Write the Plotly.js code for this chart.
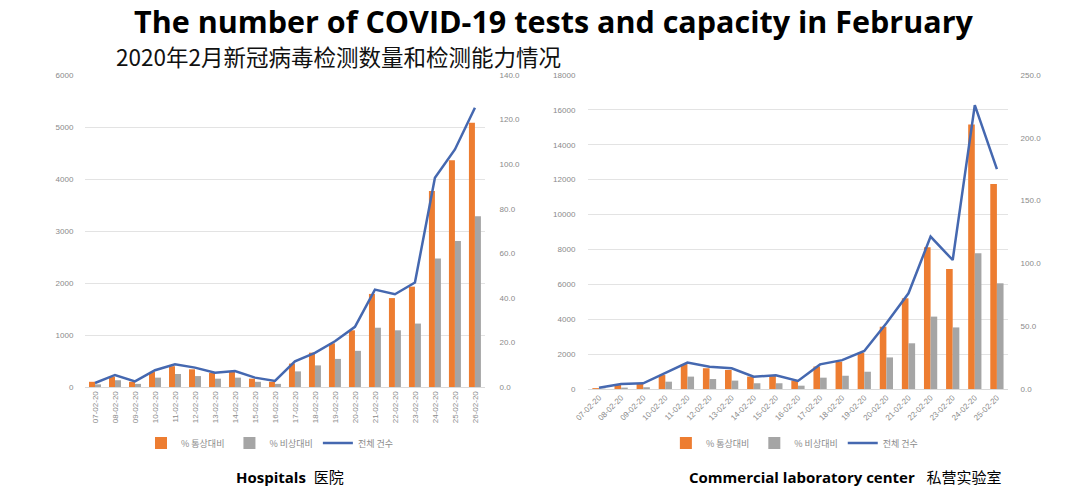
<!DOCTYPE html>
<html><head><meta charset="utf-8">
<script src="https://cdn.plot.ly/plotly-3.0.1.min.js"></script>
<style>html,body{margin:0;padding:0;background:#fff}#c{width:1080px;height:489px}</style>
</head><body><div id="c"></div>
<script>
// Hospitals (left)
const hospDates = ['07-02-20','08-02-20','09-02-20','10-02-20','11-02-20','12-02-20','13-02-20','14-02-20','15-02-20','16-02-20','17-02-20','18-02-20','19-02-20','20-02-20','21-02-20','22-02-20','23-02-20','24-02-20','25-02-20','26-02-20'];
const hospNormal = [100,200,100,290,400,340,270,290,160,100,450,660,840,1090,1790,1710,1930,3770,4360,5080];
const hospEmerg  = [50,130,60,180,250,210,160,180,100,60,300,415,540,695,1140,1090,1220,2470,2810,3285];
const hospTotal  = [1.8,5.4,2.5,7.5,10.2,8.7,6.4,7.2,4.2,2.7,11.5,15.3,20.5,27,43.7,41.6,46.9,93.9,106.6,125.3];

// Commercial laboratory center (right)
const labDates = ['07-02-20','08-02-20','09-02-20','10-02-20','11-02-20','12-02-20','13-02-20','14-02-20','15-02-20','16-02-20','17-02-20','18-02-20','19-02-20','20-02-20','21-02-20','22-02-20','23-02-20','24-02-20','25-02-20'];
const labNormal = [50,230,300,800,1430,1190,1090,710,750,480,1290,1570,2080,3570,5200,8120,6880,15170,11750];
const labEmerg  = [20,80,100,420,710,570,480,330,330,190,650,760,990,1810,2620,4150,3530,7780,6060];
const labTotal  = [1,4,4.5,12.5,21,17.8,16.5,9.8,10.9,6.4,19.6,23,30.3,52.3,76.2,121.3,102.7,226,175];

const legendNames = ['% 통상대비','% 비상대비','전체 건수'];
const cOrange = '#ED7D31', cGray = '#A5A5A5', cBlue = '#4568B0';

const traces = [
  {type:'bar', x:hospDates, y:hospNormal, name:legendNames[0], marker:{color:cOrange}, xaxis:'x', yaxis:'y', legend:'legend'},
  {type:'bar', x:hospDates, y:hospEmerg, name:legendNames[1], marker:{color:cGray}, xaxis:'x', yaxis:'y', legend:'legend'},
  {type:'scatter', mode:'lines', x:hospDates, y:hospTotal, name:legendNames[2], line:{color:cBlue, width:2.5}, xaxis:'x', yaxis:'y2', legend:'legend'},
  {type:'bar', x:labDates, y:labNormal, name:legendNames[0], marker:{color:cOrange}, xaxis:'x2', yaxis:'y3', legend:'legend2'},
  {type:'bar', x:labDates, y:labEmerg, name:legendNames[1], marker:{color:cGray}, xaxis:'x2', yaxis:'y3', legend:'legend2'},
  {type:'scatter', mode:'lines', x:labDates, y:labTotal, name:legendNames[2], line:{color:cBlue, width:2.5}, xaxis:'x2', yaxis:'y4', legend:'legend2'}
];

const tickFont = {family:'Liberation Sans, Arial, sans-serif', size:8, color:'#8a8a8a'};
const gridC = '#e3e3e3';
const legFont = {family:'Noto Sans CJK KR, sans-serif', size:9, color:'#8a8a8a'};

const layout = {
  width:1080, height:489,
  margin:{l:0, r:0, t:0, b:0},
  paper_bgcolor:'#fff', plot_bgcolor:'#fff',
  barmode:'group', bargap:0.4, bargroupgap:0,
  showlegend:true,
  xaxis:{domain:[0.0787,0.449], anchor:'y', type:'category', tickangle:-90, tickfont:tickFont,
         showgrid:false, showline:true, linecolor:'#d9d9d9', ticks:'', automargin:false},
  yaxis:{domain:[0.2086,0.8466], anchor:'x', range:[0,6000], dtick:1000, tickformat:'d', tickfont:tickFont,
         gridcolor:gridC, zeroline:false, showline:false, ticks:'outside', ticklen:9, tickcolor:'rgba(0,0,0,0)', automargin:false},
  yaxis2:{overlaying:'y', side:'right', anchor:'x', range:[0,140], dtick:20, tickformat:'.1f', tickfont:tickFont,
         showgrid:false, zeroline:false, showline:false, ticks:'outside', ticklen:12, tickcolor:'rgba(0,0,0,0)', automargin:false},
  xaxis2:{domain:[0.5444,0.9333], anchor:'y3', type:'category', tickangle:-45, tickfont:tickFont,
         showgrid:false, showline:true, linecolor:'#d9d9d9', ticks:'', automargin:false},
  yaxis3:{domain:[0.2045,0.8466], anchor:'x2', range:[0,18000], dtick:2000, tickformat:'d', tickfont:tickFont,
         gridcolor:gridC, zeroline:false, showline:false, ticks:'outside', ticklen:10, tickcolor:'rgba(0,0,0,0)', automargin:false},
  yaxis4:{overlaying:'y3', side:'right', anchor:'x2', range:[0,250], dtick:50, tickformat:'.1f', tickfont:tickFont,
         showgrid:false, zeroline:false, showline:false, ticks:'outside', ticklen:10, tickcolor:'rgba(0,0,0,0)', automargin:false},
  legend:{orientation:'h', x:0.25, xanchor:'center', y:0.094, yanchor:'middle', font:legFont, bgcolor:'rgba(0,0,0,0)', itemwidth:30, traceorder:'normal'},
  legend2:{orientation:'h', x:0.736, xanchor:'center', y:0.094, yanchor:'middle', font:legFont, bgcolor:'rgba(0,0,0,0)', itemwidth:30, traceorder:'normal'},
  annotations:[
    {text:'<b>The number of COVID-19 tests and capacity in February</b>', xref:'paper', yref:'paper', x:553/1080, y:1-21/489, xanchor:'center', yanchor:'middle', showarrow:false, borderpad:0,
     font:{family:'Open Sans, sans-serif', size:30.5, color:'#000'}},
    {text:'2020年2月新冠病毒检测数量和检测能力情况', xref:'paper', yref:'paper', x:115/1080, y:1-56.5/489, xanchor:'left', yanchor:'middle', showarrow:false, borderpad:0,
     font:{family:'Noto Sans CJK SC, sans-serif', size:22.5, color:'#111'}},
    {text:'<b>Hospitals</b>  医院', xref:'paper', yref:'paper', x:290/1080, y:1-477/489, xanchor:'center', yanchor:'middle', showarrow:false,
     font:{family:'Open Sans, Noto Sans CJK SC, sans-serif', size:15, color:'#000'}},
    {text:'<b>Commercial laboratory center</b>   私营实验室', xref:'paper', yref:'paper', x:845/1080, y:1-477/489, xanchor:'center', yanchor:'middle', showarrow:false,
     font:{family:'Open Sans, Noto Sans CJK SC, sans-serif', size:15, color:'#000'}}
  ]
};

Plotly.newPlot('c', traces, layout, {staticPlot:true, displayModeBar:false});
</script>
</body></html>
